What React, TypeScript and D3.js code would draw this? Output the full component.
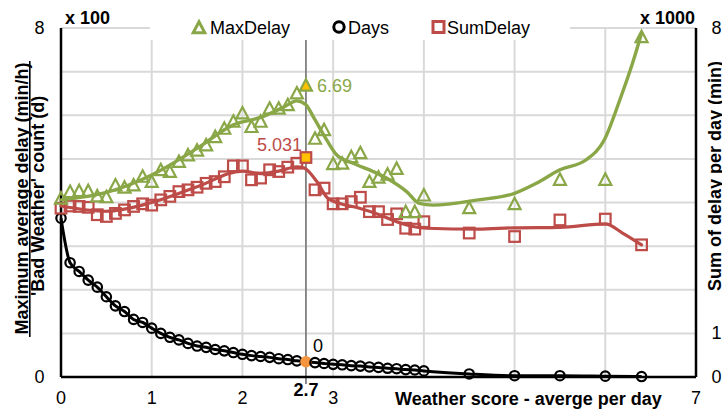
import React from 'react';
import * as d3 from 'd3';

// ---------- data ----------
const scores = [0, 0.1, 0.2, 0.3, 0.4, 0.5, 0.6, 0.7, 0.8, 0.9, 1.0, 1.1, 1.2, 1.3, 1.4, 1.5, 1.6, 1.7, 1.8, 1.9, 2.0, 2.1, 2.2, 2.3, 2.4, 2.5, 2.6, 2.7, 2.8, 2.9, 3.0, 3.1, 3.2, 3.3, 3.4, 3.5, 3.6, 3.7, 3.8, 3.9, 4.0, 4.5, 5.0, 5.5, 6.0, 6.4];

const maxDelay = [4.10, 4.25, 4.27, 4.27, 4.15, 4.13, 4.40, 4.35, 4.40, 4.60, 4.48, 4.75, 4.71, 4.94, 5.09, 5.20, 5.32, 5.51, 5.70, 5.86, 6.05, 5.74, 5.86, 6.16, 6.16, 6.24, 6.51, 6.69, 5.47, 5.67, 4.89, 4.90, 5.05, 5.14, 4.48, 4.58, 4.65, 4.78, 3.79, 3.79, 4.17, 3.88, 3.97, 4.53, 4.53, 7.80];

const days = [3.64, 2.62, 2.42, 2.22, 2.06, 1.84, 1.63, 1.50, 1.32, 1.25, 1.12, 1.00, 0.91, 0.85, 0.77, 0.71, 0.68, 0.63, 0.60, 0.56, 0.52, 0.49, 0.47, 0.45, 0.42, 0.40, 0.37, 0.35, 0.33, 0.31, 0.29, 0.28, 0.26, 0.25, 0.23, 0.22, 0.20, 0.19, 0.17, 0.16, 0.14, 0.07, 0.03, 0.03, 0.02, 0.01];

const sumDelay = [3.87, 3.92, 3.91, 3.89, 3.72, 3.68, 3.75, 3.83, 3.91, 3.97, 3.94, 4.06, 4.14, 4.25, 4.29, 4.35, 4.44, 4.48, 4.59, 4.84, 4.84, 4.52, 4.56, 4.75, 4.71, 4.81, 4.90, 5.031, 4.29, 4.33, 3.97, 3.97, 4.02, 4.12, 3.79, 3.79, 3.61, 3.74, 3.41, 3.39, 3.56, 3.30, 3.22, 3.60, 3.62, 3.03];

// smoothed trend lines
const maxTrendX = [0, 0.5, 1.0, 1.5, 1.9, 2.2, 2.45, 2.6, 2.7, 2.78, 2.93, 3.04, 3.22, 3.44, 3.62, 3.81, 3.95, 4.1, 4.6, 5.0, 5.24, 5.5, 5.79, 5.99, 6.16, 6.3, 6.4];
const maxTrendY = [4.06, 4.23, 4.63, 5.24, 5.78, 5.95, 6.18, 6.33, 6.24, 5.97, 5.43, 5.09, 4.90, 4.71, 4.52, 4.25, 3.98, 3.94, 4.06, 4.21, 4.44, 4.75, 4.98, 5.44, 6.35, 7.19, 7.88];

const sumTrendX = [0, 0.5, 1.0, 1.5, 2.0, 2.2, 2.4, 2.6, 2.68, 2.82, 2.94, 3.07, 3.29, 3.51, 3.70, 3.88, 4.03, 4.6, 5.0, 5.5, 6.0, 6.19, 6.4];
const sumTrendY = [3.92, 3.80, 4.00, 4.36, 4.72, 4.66, 4.72, 4.82, 4.79, 4.48, 4.10, 3.98, 3.87, 3.72, 3.56, 3.45, 3.41, 3.39, 3.42, 3.43, 3.51, 3.30, 3.03];

const xTicks = [0, 1, 2, 3, 4, 5, 6, 7];
const yTicks = [0, 1, 2, 3, 4, 5, 6, 7, 8];
// tick labels that stay visible (others are covered by the axis titles)
const xTickLabels = [0, 1, 2, 3, 7];
const yLeftTickLabels = [0, 8];
const yRightTickLabels = [0, 1, 8];
const highlightScore = 2.7;
const highlightLabels = { max: '6.69', sum: '5.031', days: '0', score: '2.7' };
const legendNames = ['MaxDelay', 'Days', 'SumDelay'];

// ---------- styles ----------
const GREEN = '#8aa748';
const RED = '#bd4b48';
const FONT = '"Liberation Sans", Arial, sans-serif';

export default function App() {
  const W = 722, H = 410;
  const x = d3.scaleLinear().domain([0, 7]).range([61, 696]);
  const yL = d3.scaleLinear().domain([0, 8]).range([377, 28]);
  const yR = d3.scaleLinear().domain([0, 8]).range([377, 28]);

  const lineOf = (xs: number[], ys: number[], ys2: (v: number) => number) =>
    d3.line<number>().x((_, i) => x(xs[i])).y((d) => ys2(d)).curve(d3.curveMonotoneX)(ys) || '';

  const maxPath = lineOf(maxTrendX, maxTrendY, yL);
  const sumPath = lineOf(sumTrendX, sumTrendY, yR);
  const daysPath = lineOf(scores, days, yL);

  const tri = (cx: number, cy: number, s = 6) =>
    `M${cx},${cy - s}L${cx + s},${cy + s * 0.9}L${cx - s},${cy + s * 0.9}Z`;

  const hi = scores.indexOf(highlightScore);
  const hx = x(highlightScore);

  return (
    <svg width={W} height={H} style={{ position: 'absolute', left: 0, top: 0, background: '#fff' }} fontFamily={FONT}>
      <rect x={0} y={0} width={W} height={H} fill="#fff" />
      {/* gridlines */}
      {yTicks.filter((t) => t > 0).map((t) => (
        <line key={'hg' + t} x1={x(0)} x2={x(7)} y1={yL(t)} y2={yL(t)} stroke="#d9d9d9" strokeWidth={2} />
      ))}
      {xTicks.filter((t) => t > 0 && t < 7).map((t) => (
        <line key={'vg' + t} x1={x(t)} x2={x(t)} y1={yL(8)} y2={yL(0)} stroke="#d9d9d9" strokeWidth={2} />
      ))}

      {/* legend box (white) */}
      <rect x={150} y={10} width={420} height={30} fill="#fff" />
      <g fontSize={18} fill="#000">
        <path d={tri(199, 27.5, 5.8)} fill="none" stroke={GREEN} strokeWidth={3} />
        <text x={210} y={33.5}>{legendNames[0]}</text>
        <circle cx={339} cy={27} r={5.2} fill="none" stroke="#000" strokeWidth={3} />
        <text x={348} y={33.5}>{legendNames[1]}</text>
        <rect x={433} y={21.5} width={11} height={11} fill="none" stroke={RED} strokeWidth={3} />
        <text x={447} y={33.5}>{legendNames[2]}</text>
      </g>

      {/* highlight vertical line */}
      <line x1={hx} x2={hx} y1={40} y2={384} stroke="#808080" strokeWidth={1.8} />

      {/* axes */}
      <line x1={x(0)} x2={x(0)} y1={yL(8)} y2={yL(0)} stroke="#000" strokeWidth={2.5} />
      <line x1={x(7)} x2={x(7)} y1={yR(8)} y2={yR(0)} stroke="#000" strokeWidth={2.5} />
      <line x1={x(0)} x2={x(7)} y1={yL(0)} y2={yL(0)} stroke="#000" strokeWidth={2.5} />

      {/* days series */}
      <path d={daysPath} fill="none" stroke="#000" strokeWidth={3} />
      {scores.map((s, i) => (
        <circle key={'d' + i} cx={x(s)} cy={yL(days[i])} r={4.7} fill={i === hi ? '#f5953f' : 'none'} stroke={i === hi ? '#f5953f' : '#000'} strokeWidth={2.2} />
      ))}

      {/* sum delay series */}
      <path d={sumPath} fill="none" stroke={RED} strokeWidth={3.2} strokeLinecap="round" />
      {scores.map((s, i) => (
        <rect key={'s' + i} x={x(s) - 5.3} y={yR(sumDelay[i]) - 5.3} width={10.6} height={10.6} fill={i === hi ? '#ffc000' : 'none'} stroke={RED} strokeWidth={2.2} />
      ))}

      {/* max delay series */}
      <path d={maxPath} fill="none" stroke={GREEN} strokeWidth={3.4} strokeLinecap="round" />
      {scores.map((s, i) => (
        <path key={'m' + i} d={tri(x(s), yL(maxDelay[i]), 6)} fill={i === hi ? '#ffc000' : 'none'} stroke={GREEN} strokeWidth={2.2} />
      ))}

      {/* data labels */}
      <text x={hx + 11} y={yL(maxDelay[hi]) + 7} fontSize={18} fill={GREEN}>{highlightLabels.max}</text>
      <text x={hx - 4} y={yR(sumDelay[hi]) - 7} fontSize={18} fill={RED} textAnchor="end">{highlightLabels.sum}</text>
      <text x={hx + 7} y={yL(days[hi]) - 10} fontSize={18} fill="#000">{highlightLabels.days}</text>

      {/* y tick labels */}
      {yLeftTickLabels.map((t) => (
        <text key={'yl' + t} x={44.5} y={yL(t) + 6} fontSize={18} textAnchor="end">{t}</text>
      ))}
      {yRightTickLabels.map((t) => (
        <text key={'yr' + t} x={711.5} y={yR(t) + 6} fontSize={18}>{t}</text>
      ))}
      {/* x tick labels */}
      {xTickLabels.map((t) => (
        <text key={'xt' + t} x={x(t)} y={404} fontSize={18} textAnchor="middle">{t}</text>
      ))}
      <text x={hx} y={396} fontSize={18} fontWeight="bold" textAnchor="middle">{highlightLabels.score}</text>

      {/* unit labels */}
      <text x={65} y={24} fontSize={18} fontWeight="bold">x 100</text>
      <text x={695} y={24} fontSize={18} fontWeight="bold" textAnchor="end">x 1000</text>

      {/* left title */}
      <g transform="translate(27.5,198.5) rotate(-90)">
        <text x={0} y={0} fontSize={18} fontWeight="bold" textAnchor="middle">Maximum average delay (min/h)</text>
      </g>
      <line x1={29.8} x2={29.8} y1={61} y2={337} stroke="#000" strokeWidth={1.6} />
      <g transform="translate(44,196) rotate(-90)">
        <text x={0} y={0} fontSize={18} fontWeight="bold" textAnchor="middle">'Bad Weather' count (d)</text>
      </g>

      {/* right title */}
      <g transform="translate(720.5,176) rotate(-90)">
        <text x={0} y={0} fontSize={18} fontWeight="bold" textAnchor="middle">Sum of delay per day (min)</text>
      </g>

      {/* x title */}
      <text x={395} y={405} fontSize={18} fontWeight="bold">Weather score - averge per day</text>
    </svg>
  );
}
